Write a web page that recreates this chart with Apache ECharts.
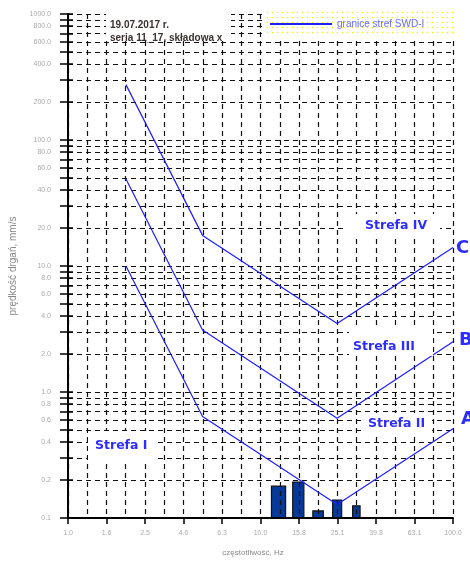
<!DOCTYPE html>
<html>
<head>
<meta charset="utf-8">
<script src="https://cdn.jsdelivr.net/npm/echarts@6/dist/echarts.min.js"></script>
<style>
  html, body { margin: 0; padding: 0; background: #fff; }
  #chart { width: 470px; height: 562px; }
</style>
</head>
<body>
<div id="chart"></div>
<script>
// Frequency gridlines, every 1/10 decade (Hz)
const freqGrid = [1, 1.259, 1.585, 1.995, 2.512, 3.162, 3.981, 5.012, 6.310, 7.943,
                  10, 12.59, 15.85, 19.95, 25.12, 31.62, 39.81, 50.12, 63.10, 79.43, 100];
// Labelled frequency ticks, every 1/5 decade (Hz)
const freqTicks = [1, 1.585, 2.512, 3.981, 6.310, 10, 15.849, 25.12, 39.81, 63.10, 100];
// Velocity gridlines, 1..9 in each decade (mm/s)
const velGrid = [0.1, 0.2, 0.3, 0.4, 0.5, 0.6, 0.7, 0.8, 0.9,
                 1, 2, 3, 4, 5, 6, 7, 8, 9,
                 10, 20, 30, 40, 50, 60, 70, 80, 90,
                 100, 200, 300, 400, 500, 600, 700, 800, 900, 1000];
// Labelled velocity ticks (mm/s)
const velTicks = [0.1, 0.2, 0.4, 0.6, 0.8, 1, 2, 4, 6, 8, 10, 20, 40, 60, 80,
                  100, 200, 400, 600, 800, 1000];

// SWD-I zone boundary lines A, B, C: [frequency Hz, velocity mm/s]
const lineA = [[2, 10], [5, 0.64], [25, 0.128], [100, 0.51]];
const lineB = [[2, 49], [5, 3.1], [25, 0.62], [100, 2.5]];
const lineC = [[2, 275], [5, 17.5], [25, 3.5], [100, 14]];

// Measured band spectrum: band edges (Hz) and peak velocity (mm/s)
const bandLow  = [11.4, 14.7, 18.7, 23.7, 30.1];
const bandHigh = [13.5, 16.8, 21.2, 26.4, 32.9];
const bandVel  = [0.179, 0.193, 0.114, 0.139, 0.125];

const legendName = 'granice stref SWD-I';
const VEL_MIN = 0.1, VEL_MAX = 1000, FREQ_MIN = 1, FREQ_MAX = 100;

const SANS = '"Liberation Sans", Arial, sans-serif';
const ZONE_FONT = 'bold 12.5px "DejaVu Sans", Verdana, sans-serif';
const LETTER_FONT = 'bold 18px "DejaVu Sans", Verdana, sans-serif';
const BLUE = '#1e1eff';
const TEXT_BLUE = '#2d2dff';

// white tile with a small yellow dot, used as the legend background
const tile = document.createElement('canvas');
tile.width = 5; tile.height = 5;
const tctx = tile.getContext('2d');
tctx.fillStyle = '#ffffff';
tctx.fillRect(0, 0, 5, 5);
tctx.fillStyle = '#f2ee00';
tctx.beginPath();
tctx.arc(2.5, 2.5, 0.8, 0, Math.PI * 2);
tctx.fill();

const gridLine = { color: '#111', width: 1.2, type: [5, 4] };

const bars = bandLow.map((lo, i) => [lo, bandHigh[i], bandVel[i]]);

function renderBar(params, api) {
  const top = api.coord([api.value(0), api.value(2)]);
  const bottom = api.coord([api.value(1), VEL_MIN]);
  return {
    type: 'rect',
    shape: { x: top[0], y: top[1], width: bottom[0] - top[0], height: bottom[1] - top[1] },
    style: { fill: '#063a9a', stroke: '#111', lineWidth: 1.2 }
  };
}

function zoneLabel(text, tx, ty, box) {
  return [
    { type: 'rect', z: 100, shape: { x: box[0], y: box[1], width: box[2], height: box[3] },
      style: { fill: '#fff' } },
    { type: 'text', z: 101, x: tx, y: ty,
      style: { text: text, font: ZONE_FONT, fill: TEXT_BLUE, align: 'left', verticalAlign: 'middle' } }
  ];
}

function letter(text, tx, ty) {
  return { type: 'text', z: 101, x: tx, y: ty,
    style: { text: text, font: LETTER_FONT, fill: TEXT_BLUE, align: 'left', verticalAlign: 'middle' } };
}

const lineSeries = [lineA, lineB, lineC].map(d => ({
  type: 'line', name: legendName, data: d, xAxisIndex: 0, yAxisIndex: 0,
  symbol: 'none', showSymbol: false, z: 4, color: BLUE,
  lineStyle: { color: BLUE, width: 1.2 }
}));

const chart = echarts.init(document.getElementById('chart'), null, { renderer: 'canvas' });

chart.setOption({
  animation: false,
  backgroundColor: '#fff',
  grid: { left: 68, right: 17, top: 14, bottom: 37, containLabel: false },
  legend: {
    data: [legendName], left: 270, top: 19, padding: 0, z: 110,
    itemWidth: 62, itemHeight: 2, icon: 'rect', selectedMode: false,
    textStyle: { color: '#6b6bff', fontSize: 10, fontFamily: SANS }
  },
  xAxis: [
    {
      type: 'log', logBase: 10, min: FREQ_MIN, max: FREQ_MAX, position: 'bottom', z: 3,
      axisLine: { show: false },
      axisTick: { show: false, customValues: freqGrid },
      axisLabel: { show: false },
      splitLine: { show: true, lineStyle: gridLine }
    },
    {
      type: 'log', logBase: 10, min: FREQ_MIN, max: FREQ_MAX, position: 'bottom', z: 6,
      axisLine: { show: true, onZero: false, lineStyle: { color: '#000', width: 2 } },
      axisTick: { show: true, length: 6, customValues: freqTicks, lineStyle: { color: '#000', width: 1.5 } },
      axisLabel: {
        customValues: freqTicks, showMinLabel: true, showMaxLabel: true,
        formatter: v => Number(v).toFixed(1), color: '#aaa', fontSize: 7, margin: 12, fontFamily: SANS
      },
      splitLine: { show: false },
      name: 'częstotliwość, Hz', nameLocation: 'middle', nameGap: 31,
      nameTextStyle: { color: '#888', fontSize: 8, fontFamily: SANS, padding: [0, 15, 0, 0] }
    }
  ],
  yAxis: [
    {
      type: 'log', logBase: 10, min: VEL_MIN, max: VEL_MAX, position: 'left', z: 3,
      axisLine: { show: true, onZero: false, lineStyle: { color: '#000', width: 2 } },
      axisTick: { show: true, length: 8, customValues: velGrid, lineStyle: { color: '#000', width: 1.5 } },
      axisLabel: {
        customValues: velTicks, showMinLabel: true, showMaxLabel: true,
        formatter: v => Number(v).toFixed(1), color: '#aaa', fontSize: 7, margin: 17, fontFamily: SANS
      },
      splitLine: { show: true, lineStyle: gridLine },
      name: 'prędkość drgań, mm/s', nameLocation: 'middle', nameGap: 40,
      nameTextStyle: { color: '#888', fontSize: 10, fontFamily: SANS }
    },
    {
      type: 'log', logBase: 10, min: VEL_MIN, max: VEL_MAX, position: 'left', z: 6,
      axisLine: { show: false },
      axisTick: { show: true, inside: true, length: 5, customValues: velGrid, lineStyle: { color: '#000', width: 1.5 } },
      axisLabel: { show: false },
      splitLine: { show: false }
    }
  ],
  series: [
    {
      type: 'custom', name: 'widmo', xAxisIndex: 0, yAxisIndex: 0, z: 2,
      renderItem: renderBar, encode: { x: [0, 1], y: 2 }, data: bars
    },
    ...lineSeries
  ],
  graphic: {
    elements: [
      { type: 'rect', z: 100, shape: { x: 263, y: 8, width: 192, height: 29 },
        style: { fill: { image: tile, repeat: 'repeat' } } },
      { type: 'rect', z: 100, shape: { x: 106, y: 8, width: 125, height: 33 }, style: { fill: '#fff' } },
      { type: 'text', z: 101, x: 110, y: 25,
        style: { text: '19.07.2017 r.', font: 'bold 10px "Liberation Sans", Arial, sans-serif',
                 fill: '#3a2f2f', align: 'left', verticalAlign: 'middle' } },
      { type: 'text', z: 101, x: 110, y: 38,
        style: { text: 'seria 11_17, składowa x', font: 'bold 10px "Liberation Sans", Arial, sans-serif',
                 fill: '#3a2f2f', align: 'left', verticalAlign: 'middle' } },
      ...zoneLabel('Strefa IV', 365, 226, [343, 214, 97, 24]),
      ...zoneLabel('Strefa III', 353, 347, [349, 329, 84, 27]),
      ...zoneLabel('Strefa II', 368, 424, [362, 413, 70, 20]),
      ...zoneLabel('Strefa I', 95, 446, [88, 431, 70, 29]),
      letter('C', 456, 248),
      letter('B', 459, 340),
      letter('A', 461, 419)
    ]
  }
});
</script>
</body>
</html>
